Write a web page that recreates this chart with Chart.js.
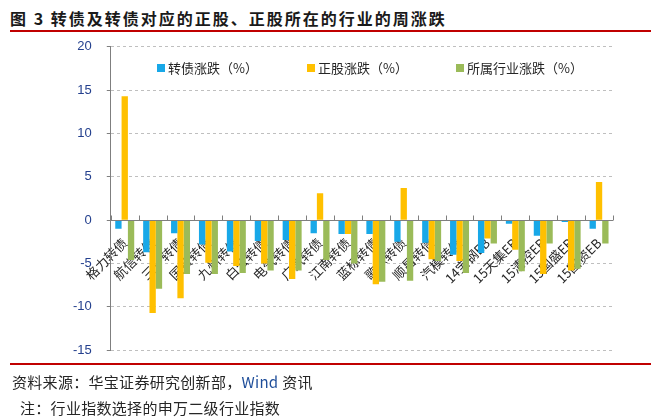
<!DOCTYPE html>
<html lang="zh-CN">
<head>
  <meta charset="UTF-8">
  <title>转债及转债对应的正股、正股所在的行业的周涨跌</title>
  <script src="https://cdn.jsdelivr.net/npm/chart.js"></script>
  <style>
    body {
      margin: 0;
      background: #fff;
      font-family: "Noto Sans CJK SC", sans-serif;
      color: #262626;
    }
    .page {
      position: relative;
      width: 658px;
      height: 419px;
      overflow: hidden;
    }
    .title {
      position: absolute;
      left: 10px;
      top: 6px;
      font-size: 16px;
      font-weight: bold;
      letter-spacing: 2px;
      color: #1a1a1a;
      white-space: nowrap;
    }
    .rule {
      position: absolute;
      left: 10px;
      width: 641px;
      height: 2px;
      background: #c00000;
    }
    #grafico {
      position: absolute;
      left: 0;
      top: 24px;
    }
    .legend span {
      position: absolute;
      font-size: 13px;
      line-height: 14px;
      white-space: nowrap;
    }
    .legend i {
      position: absolute;
      width: 8px;
      height: 8px;
    }
    .note {
      position: absolute;
      font-size: 15px;
      letter-spacing: 0.3px;
      white-space: nowrap;
      color: #262626;
    }
  </style>
</head>
<body>

<div class="page">
  <div class="title">图 3 转债及转债对应的正股、正股所在的行业的周涨跌</div>
  <div class="rule" style="top:30px"></div>

  <canvas id="grafico" width="658" height="349"></canvas>

  <div class="legend" id="legenda"></div>

  <div class="rule" style="top:363px"></div>
  <div class="note" style="left:12px; top:371px">资料来源：华宝证券研究创新部，<span style="color:#1f4e9a">Wind</span> 资讯</div>
  <div class="note" style="left:20px; top:397px">注：行业指数选择的申万二级行业指数</div>
</div>

<script>
  const categorias = ["格力转债", "航信转债", "三一转债", "国贸转债", "九州转债", "白云转债",
    "电气转债", "广汽转债", "江南转债", "蓝标转债", "歌尔转债", "顺昌转债", "汽模转债",
    "14宝钢EB", "15天集EB", "15清控EB", "15国盛EB", "15国资EB"];

  const zhuanzhai = [-1.0, -3.7, -1.5, -2.8, -3.6, -2.4, -2.3, -1.5, -1.6,
    -1.6, -2.5, -2.6, -4.0, -3.8, -0.4, -1.8, -0.2, -1.0];
  const zhenggu = [14.3, -10.7, -9.0, -4.9, -5.3, -5.0, -6.8, 3.1, -1.6,
    -7.4, 3.7, -4.5, -4.7, -2.1, -3.4, -6.2, -5.8, 4.4];
  const hangye = [-4.6, -7.9, -6.2, -6.2, -6.1, -5.8, -5.8, -4.6, -5.0,
    -7.1, -7.0, -4.7, -6.1, -2.7, -5.9, -2.7, -5.6, -2.7];

  const series = [
    { label: "转债涨跌（%）", data: zhuanzhai, cor: "#18a8e8", x: 157 },
    { label: "正股涨跌（%）", data: zhenggu, cor: "#ffc000", x: 307 },
    { label: "所属行业涨跌（%）", data: hangye, cor: "#9bbb59", x: 456 }
  ];

  const yMin = -15, yMax = 20, yStep = 5;

  // legenda em HTML dentro da área do gráfico
  const legenda = document.getElementById("legenda");
  series.forEach(s => {
    const q = document.createElement("i");
    q.style.left = s.x + "px";
    q.style.top = "64px";
    q.style.background = s.cor;
    const t = document.createElement("span");
    t.textContent = s.label;
    t.style.left = (s.x + 11) + "px";
    t.style.top = "61px";
    legenda.appendChild(q);
    legenda.appendChild(t);
  });

  // pequenos traços acima do eixo x, entre as categorias
  const tracos = {
    id: "tracos",
    afterDatasetsDraw(chart) {
      const x = chart.scales.x;
      const y0 = Math.round(chart.scales.y.getPixelForValue(0)) + 0.5;
      const ctx = chart.ctx;
      ctx.save();
      ctx.strokeStyle = "#7f7f7f";
      ctx.lineWidth = 1;
      for (let i = 0; i <= categorias.length; i++) {
        const px = Math.round(x.getPixelForValue(i - 0.5)) + 0.5;
        ctx.beginPath();
        ctx.moveTo(px, y0);
        ctx.lineTo(px, y0 - 5);
        ctx.stroke();
      }
      ctx.beginPath();
      ctx.moveTo(x.left, y0);
      ctx.lineTo(x.right, y0);
      ctx.stroke();
      ctx.restore();
    }
  };

  const ctx = document.getElementById("grafico").getContext("2d");
  new Chart(ctx, {
    type: "bar",
    data: {
      labels: categorias,
      datasets: series.map(s => ({
        label: s.label,
        data: s.data,
        backgroundColor: s.cor,
        borderWidth: 0,
        barPercentage: 1.0,
        categoryPercentage: 0.68
      }))
    },
    options: {
      responsive: false,
      animation: false,
      layout: { padding: { left: 58, right: 45, top: 3, bottom: 1 } },
      plugins: {
        legend: { display: false },
        tooltip: { enabled: false }
      },
      scales: {
        x: {
          position: { y: 0 },
          offset: true,
          grid: { display: false },
          border: { display: false },
          ticks: {
            autoSkip: false,
            minRotation: 45,
            maxRotation: 45,
            padding: 7,
            color: "#262626",
            font: { family: "'Noto Sans CJK SC'", size: 13 }
          }
        },
        y: {
          min: yMin,
          max: yMax,
          ticks: {
            stepSize: yStep,
            padding: 15,
            color: "#24408e",
            font: { family: "'Liberation Sans', Arial", size: 13 }
          },
          grid: {
            color: c => c.tick && c.tick.value === 0 ? "rgba(0,0,0,0)" : "#bfbfbf",
            tickLength: 4,
            tickColor: "#7f7f7f",
            tickBorderDash: []
          },
          border: { color: "#7f7f7f", dash: [3, 3] }
        }
      }
    },
    plugins: [tracos]
  });
</script>

</body>
</html>
